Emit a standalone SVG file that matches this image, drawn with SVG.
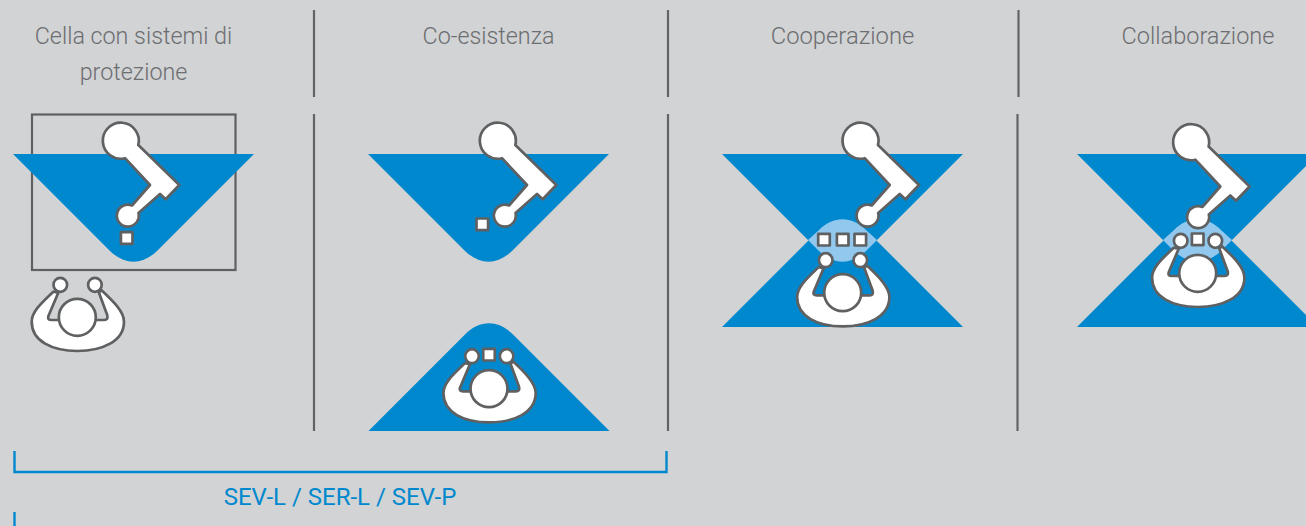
<svg xmlns="http://www.w3.org/2000/svg" width="1306" height="526" viewBox="0 0 1306 526">
<style>
.bg{fill:#d1d3d4}
.zone{fill:#0088ce}
.lens{fill:#92c8ee}
.w{fill:#fff;stroke:#5f6062;stroke-width:2.7;stroke-linejoin:round}
.sep{stroke:#636466;stroke-width:2.2;fill:none}
.t{font-family:Roboto,"Liberation Sans",sans-serif;font-weight:300;font-size:23.3px;fill:#6d6e71;text-anchor:middle}
.b{font-family:Roboto,"Liberation Sans",sans-serif;font-size:24px;fill:#0088ce;text-anchor:middle}
.br{stroke:#0088ce;stroke-width:2.4;fill:none}
</style>
<defs>
<path id="down" d="M-120.5,0H120.5L24,96.5C9.1,111.4 -9.1,111.4 -24,96.5Z"/>
<path id="up" d="M-120.5,0H120.5L24,-96.5C9.1,-111.4 -9.1,-111.4 -24,-96.5Z"/>
<path id="lensp" d="M-34.5,240L-24,230.5C-9,215.6 9,215.6 24,230.5L34.5,240L24,250.5C9,265.4 -9,265.4 -24,250.5Z"/>
<path id="robot" d="M125,158.2A18,18 0 1 1 138.3,145L179.3,185L165.7,199.3L160,194L138.5,213A11,11 0 1 1 132,205.5L150,185Z"/>
<g id="human">
<path d="M-24,-25.6C-35,-15 -45.6,-6 -45.6,4.4C-45.6,24 -25,33.7 0,33.7C25,33.7 46.7,24 46.7,4.4C46.7,-6 35,-17 24.4,-27L21.5,-25L30,-2Q31,2.7 27,2.7L-26,2.7Q-30,2.7 -29,-1L-19,-24.6Z"/>
<circle cx="0" cy="0" r="18.5"/>
<ellipse cx="-17" cy="-32.5" rx="6.8" ry="7"/>
<ellipse cx="17.6" cy="-32.5" rx="6.8" ry="7"/>
</g>
<rect id="sq" x="-5.8" y="-5.8" width="11.6" height="11.6"/>
</defs>
<rect class="bg" width="1306" height="526"/>
<g id="separators" class="sep">
<path d="M314,10V97M314,114V431M668,10V97M668,114V431M1018.5,10V97M1017.5,114V431"/>
</g>
<g id="titles">
<text class="t" x="133.5" y="44">Cella con sistemi di</text>
<text class="t" x="133.5" y="79.5">protezione</text>
<text class="t" x="488.5" y="44">Co-esistenza</text>
<text class="t" x="842.5" y="44" style="font-size:23.8px">Cooperazione</text>
<text class="t" x="1198" y="44" style="font-size:23.5px">Collaborazione</text>
</g>
<g id="cell">
<rect x="32" y="114.5" width="203.5" height="155.5" fill="none" stroke="#5f6062" stroke-width="2.2"/>
<use href="#down" class="zone" x="133.5" y="154"/>
<use href="#robot" class="w"/>
<use href="#sq" class="w" x="126.7" y="238"/>
<use href="#human" class="w" x="77.3" y="317.3"/>
</g>
<g id="coexistence">
<use href="#down" class="zone" x="488.5" y="154"/>
<use href="#up" class="zone" x="489" y="431"/>
<use href="#robot" class="w" x="377"/>
<use href="#sq" class="w" x="482.3" y="224.3"/>
<use href="#human" class="w" x="489" y="388.7"/>
<use href="#sq" class="w" x="489" y="354.7"/>
</g>
<g id="cooperation">
<use href="#down" class="zone" x="842.5" y="154"/>
<use href="#up" class="zone" x="842.5" y="327"/>
<use href="#lensp" class="lens" x="842.5"/>
<use href="#robot" class="w" x="739.7"/>
<use href="#sq" class="w" x="824" y="239.7"/>
<use href="#sq" class="w" x="842.7" y="239.7"/>
<use href="#sq" class="w" x="860.3" y="239.7"/>
<use href="#human" class="w" x="842.7" y="292.7"/>
</g>
<g id="collaboration">
<use href="#down" class="zone" x="1197.5" y="154"/>
<use href="#up" class="zone" x="1197.5" y="327"/>
<use href="#lensp" class="lens" x="1197.5"/>
<use href="#robot" class="w" x="1070.3" y="1.5"/>
<use href="#human" class="w" x="1197.7" y="273.3"/>
<use href="#sq" class="w" x="1197.7" y="239.3"/>
</g>
<g id="brackets">
<path class="br" d="M14.5,451V472H666.5V451"/>
<path class="br" d="M14.5,512V526"/>
<text class="b" x="340" y="505">SEV-L / SER-L / SEV-P</text>
</g>
</svg>
